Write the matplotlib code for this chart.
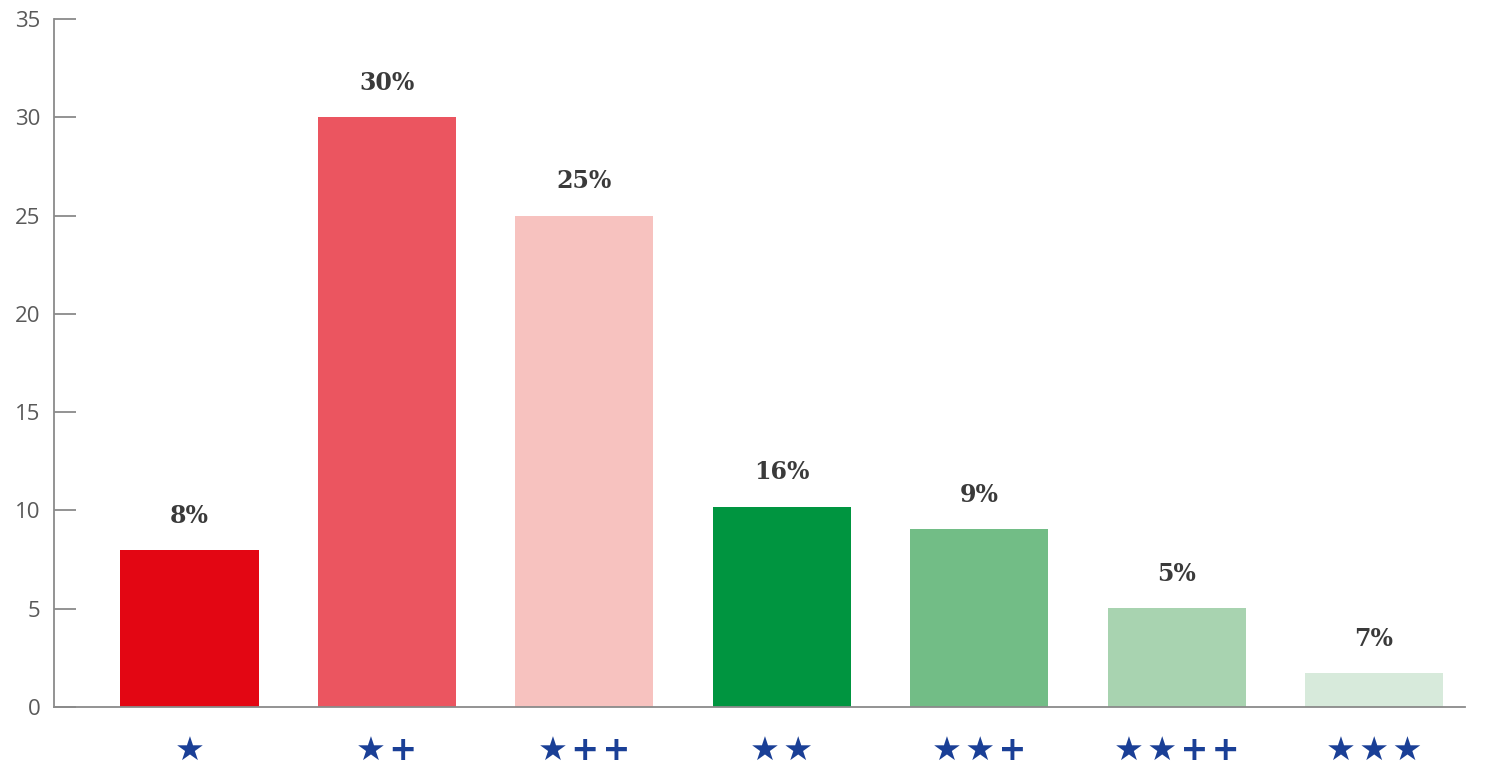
import matplotlib.pyplot as plt

categories = ["★", "★\u200a+", "★\u200a+\u200a+", "★\u200a★", "★\u200a★\u200a+",
              "★\u200a★\u200a+\u200a+", "★\u200a★\u200a★"]
values = [8.0, 30.0, 25.0, 10.2, 9.05, 5.05, 1.72]
labels = ["8%", "30%", "25%", "16%", "9%", "5%", "7%"]
colors = ["#e30613", "#eb5560", "#f7c2bf", "#009540", "#72bd86", "#a8d3b0", "#d7eadb"]

fig = plt.figure(figsize=(14.93, 7.66), dpi=100)
ax = fig.add_axes([0.0362, 0.077, 0.945, 0.898])

x = range(len(categories))
bars = ax.bar(x, values, width=0.70, color=colors)

for b, lab in zip(bars, labels):
    ax.annotate(lab, (b.get_x() + b.get_width() / 2, b.get_height()),
                xytext=(0, 16), textcoords="offset points",
                ha="center", va="bottom", fontsize=17, fontweight="bold",
                family="DejaVu Serif", color="#3a3a3a")

ax.set_xlim(-0.686, 6.46)
ax.set_ylim(0, 35)
ax.set_yticks(range(0, 36, 5))
ax.set_xticks(list(x))
ax.set_xticklabels(categories, fontsize=24, color="#1a3f96", fontweight="bold")

for s in ["top", "right"]:
    ax.spines[s].set_visible(False)
for s in ["left", "bottom"]:
    ax.spines[s].set_color("#8a8a8a")
    ax.spines[s].set_linewidth(1.3)

ax.tick_params(axis="y", direction="in", length=16, width=1.3, color="#8a8a8a",
               pad=10, labelsize=16, labelcolor="#595959")
ax.tick_params(axis="x", length=0, pad=20)
for t in ax.get_yticklabels():
    t.set_family("Open Sans")

fig.savefig("out.png", dpi=100)
